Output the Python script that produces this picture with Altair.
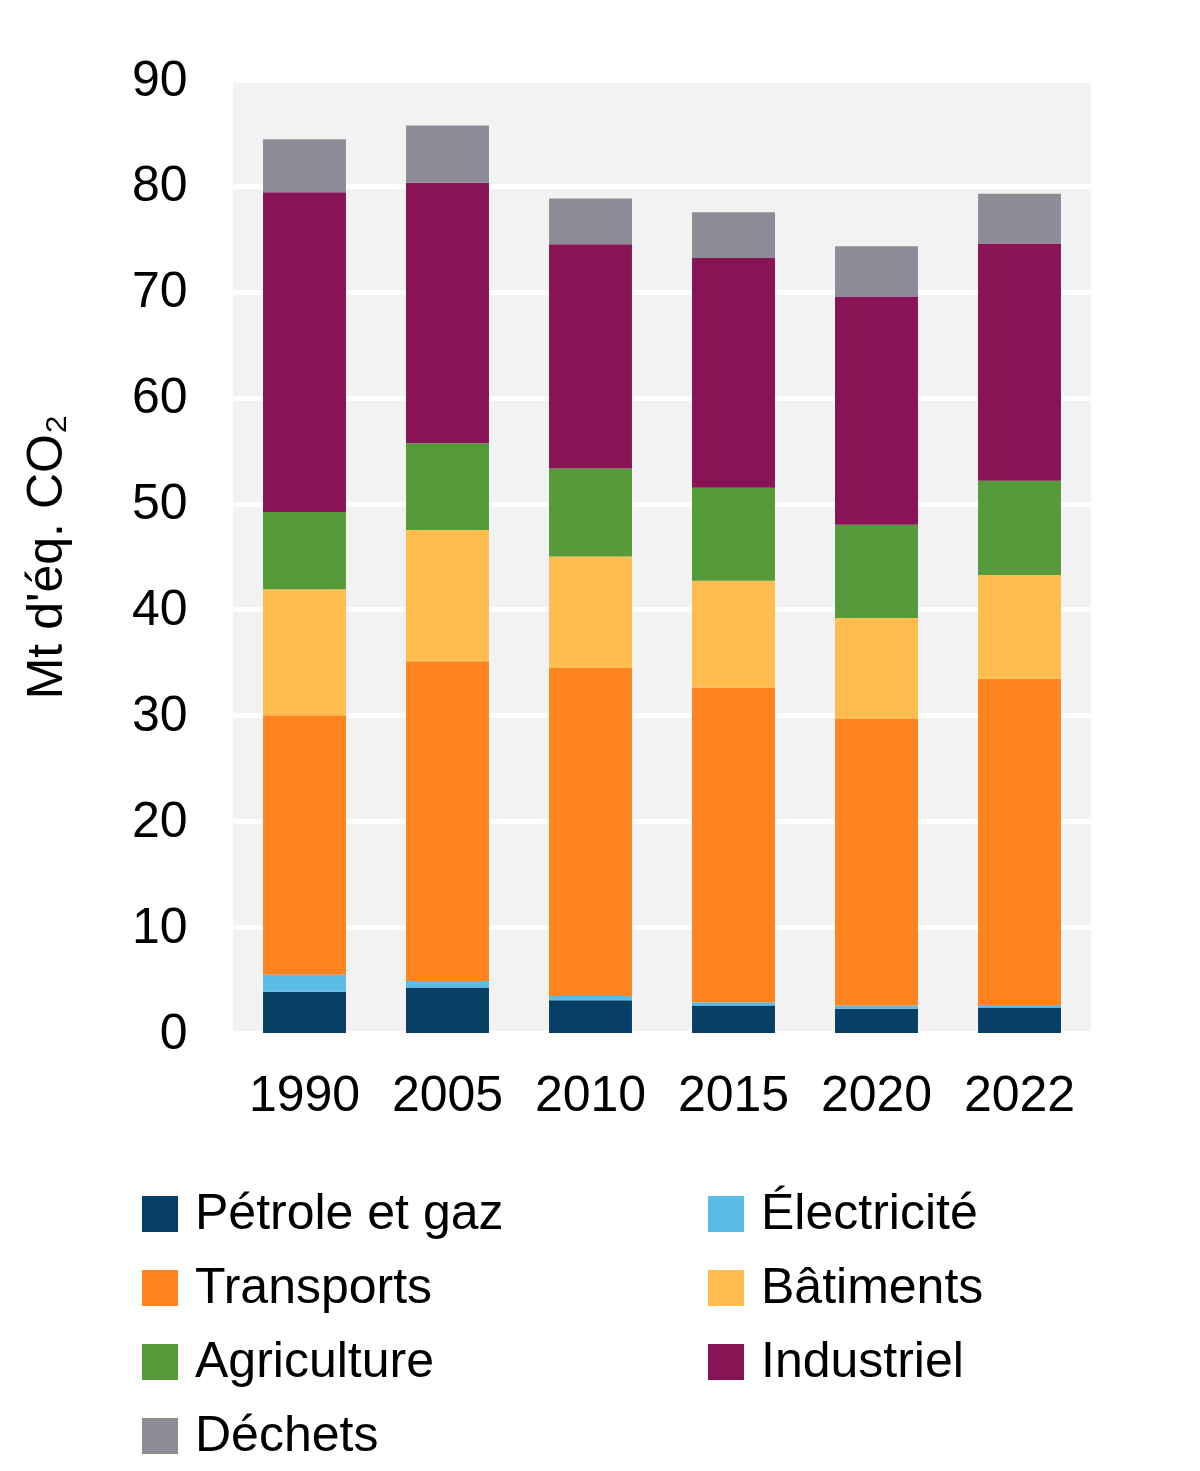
import altair as alt
import pandas as pd

years = ["1990", "2005", "2010", "2015", "2020", "2022"]
sectors = ["Pétrole et gaz", "Électricité", "Transports", "Bâtiments",
           "Agriculture", "Industriel", "Déchets"]
colors = ["#083f66", "#5bbde5", "#ff841f", "#ffbd4f", "#559b3a", "#881455", "#8d8c96"]

petrole = [3.9, 4.3, 3.1, 2.6, 2.3, 2.4]
electricite = [1.6, 0.6, 0.4, 0.3, 0.3, 0.25]
transports = [24.5, 30.2, 31.0, 29.7, 27.1, 30.8]
batiments = [11.9, 12.4, 10.5, 10.1, 9.5, 9.8]
agriculture = [7.3, 8.2, 8.3, 8.8, 8.8, 8.9]
industriel = [30.2, 24.6, 21.2, 21.7, 21.5, 22.4]
dechets = [5.0, 5.4, 4.3, 4.3, 4.8, 4.7]

series = [petrole, electricite, transports, batiments, agriculture, industriel, dechets]

rows = []
for si, (name, vals) in enumerate(zip(sectors, series)):
    for y, v in zip(years, vals):
        rows.append({"year": y, "sector": name, "value": v, "ord": si})
df = pd.DataFrame(rows)

# legend fills column by column: reorder so it reads row by row like the reference
legend_order = [0, 2, 4, 6, 1, 3, 5]
dom = [sectors[i] for i in legend_order]
rng = [colors[i] for i in legend_order]

chart = alt.Chart(df).mark_bar().encode(
    x=alt.X("year:N", sort=years,
            scale=alt.Scale(paddingInner=0.42, paddingOuter=0.21),
            axis=alt.Axis(title=None, labelAngle=0, labelFontSize=50, labelPadding=37,
                          ticks=False, tickSize=0, domain=False, grid=False,
                          labelColor="#000000", labelFont="Liberation Sans")),
    y=alt.Y("value:Q", stack="zero",
            scale=alt.Scale(domain=[0, 90], nice=False),
            axis=alt.Axis(title="Mt d'éq. CO₂", values=list(range(0, 100, 10)),
                          labelFontSize=50, labelPadding=46, ticks=False, tickSize=0,
                          domain=False, grid=True, gridColor="#ffffff", gridWidth=5,
                          labelColor="#000000", labelFont="Liberation Sans",
                          titleFont="Liberation Sans", titleFontSize=50,
                          titleFontWeight="normal", titleColor="#000000",
                          titlePadding=60)),
    color=alt.Color("sector:N",
                    scale=alt.Scale(domain=dom, range=rng),
                    legend=alt.Legend(title=None, orient="none", legendX=-98, legendY=1109,
                                      columns=2, columnPadding=197, rowPadding=24,
                                      symbolType="square", symbolSize=1300,
                                      symbolStrokeWidth=0, labelFontSize=50,
                                      labelFont="Liberation Sans", labelColor="#000000",
                                      labelOffset=10, labelLimit=600, padding=0)),
    order=alt.Order("ord:Q", sort="ascending"),
).properties(
    width=858,
    height=953,
    autosize=alt.AutoSizeParams(type="none"),
    padding={"left": 225, "top": 72, "right": 100, "bottom": 434},
).configure(
    background="#ffffff"
).configure_view(
    fill="#f2f2f2", stroke=None
)

chart.save("out.html", embed_options={"renderer": "svg", "actions": False})
